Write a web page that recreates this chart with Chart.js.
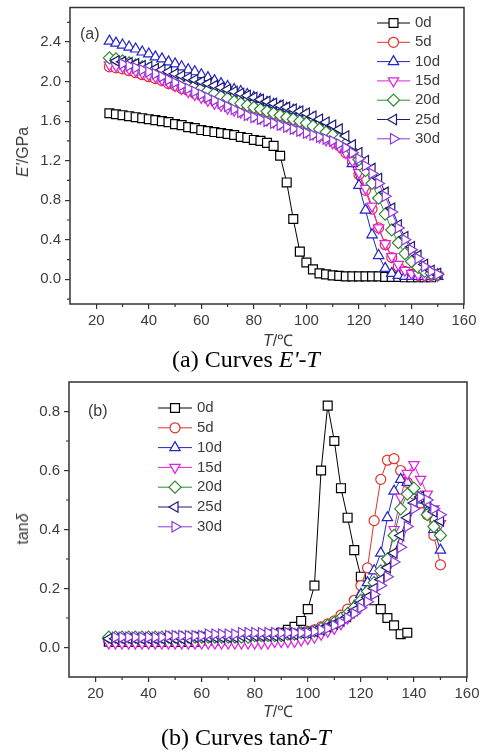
<!DOCTYPE html>
<html>
<head>
<meta charset="utf-8">
<script src="https://cdn.jsdelivr.net/npm/chart.js@4.4.1/dist/chart.umd.min.js"></script>
<style>
  body { margin: 0; background: #fff; }
  #page { position: relative; width: 487px; height: 755px; overflow: hidden; background: #fff; }
  canvas { position: absolute; left: 0; }
  #graphA { top: 0; }
  #graphB { top: 365px; }
  .axis-title { position: absolute; font-family: "Liberation Sans", Arial, sans-serif; font-size: 16px; color: #3c3c3c; white-space: nowrap; transform: translate(-50%, -50%); }
  .axis-title.vert { transform: translate(-50%, -50%) rotate(-90deg); }
  .caption { position: absolute; font-family: "Liberation Serif", "Times New Roman", serif; font-size: 24px; color: #000; white-space: nowrap; transform: translate(-50%, -50%); }
</style>
</head>
<body>
<div id="page">
  <canvas id="graphA" width="487" height="345"></canvas>
  <div class="axis-title vert" style="left:23px;top:152px"><i>E'</i>/GPa</div>
  <div class="axis-title" style="left:278px;top:340px"><i>T</i>/℃</div>
  <div class="caption" style="left:246px;top:359px">(a) Curves <i>E'</i>-<i>T</i></div>

  <canvas id="graphB" width="487" height="360"></canvas>
  <div class="axis-title vert" style="left:23px;top:529px">tan<i>δ</i></div>
  <div class="axis-title" style="left:278px;top:711px"><i>T</i>/℃</div>
  <div class="caption" style="left:246px;top:737px">(b) Curves tan<i>δ</i>-<i>T</i></div>
</div>

<script>
// temperature of every measuring point (°C)
const temps = [25, 27.5, 30, 32.5, 35, 37.5, 40, 42.5, 45, 47.5,
               50, 52.5, 55, 57.5, 60, 62.5, 65, 67.5, 70, 72.5,
               75, 77.5, 80, 82.5, 85, 87.5, 90, 92.5, 95, 97.5,
               100, 102.5, 105, 107.5, 110, 112.5, 115, 117.5, 120, 122.5,
               125, 127.5, 130, 132.5, 135, 137.5, 140, 142.5, 145, 147.5, 150];

const seriesNames = ['0d', '5d', '10d', '15d', '20d', '25d', '30d'];

// (a) storage modulus E' (GPa)
const mod0d = [1.68, 1.67, 1.66, 1.65, 1.64, 1.63, 1.62, 1.61, 1.60, 1.59,
               1.57, 1.56, 1.54, 1.53, 1.51, 1.50, 1.49, 1.48, 1.47, 1.46,
               1.44, 1.43, 1.41, 1.40, 1.38, 1.35, 1.25, 0.98, 0.61, 0.28,
               0.17, 0.10, 0.06, 0.05, 0.04, 0.035, 0.03, 0.03, 0.03, 0.03,
               0.03, 0.03, 0.025, 0.025, 0.025, 0.02, 0.02, 0.02, 0.02, 0.02, null];
const mod5d = [2.15, 2.14, 2.13, 2.11, 2.09, 2.07, 2.05, 2.03, 2.01, 1.98,
               1.96, 1.93, 1.91, 1.88, 1.86, 1.83, 1.81, 1.79, 1.77, 1.75,
               1.73, 1.71, 1.69, 1.67, 1.65, 1.63, 1.61, 1.59, 1.57, 1.55,
               1.53, 1.50, 1.47, 1.44, 1.40, 1.35, 1.28, 1.19, 1.06, 0.90,
               0.71, 0.52, 0.35, 0.22, 0.13, 0.08, 0.05, 0.04, 0.04, 0.04, 0.04];
const mod10d = [2.41, 2.39, 2.37, 2.35, 2.33, 2.30, 2.28, 2.25, 2.23, 2.20,
                2.18, 2.15, 2.12, 2.10, 2.07, 2.04, 2.01, 1.98, 1.95, 1.92,
                1.90, 1.87, 1.84, 1.82, 1.79, 1.77, 1.75, 1.73, 1.71, 1.69,
                1.66, 1.63, 1.59, 1.55, 1.50, 1.44, 1.32, 1.17, 0.95, 0.70,
                0.45, 0.24, 0.11, 0.06, 0.04, 0.03, 0.03, 0.03, 0.03, 0.03, 0.03];
const mod15d = [2.17, 2.16, 2.15, 2.13, 2.11, 2.09, 2.07, 2.05, 2.02, 1.99,
                1.96, 1.93, 1.90, 1.87, 1.84, 1.81, 1.78, 1.76, 1.73, 1.71,
                1.69, 1.67, 1.65, 1.63, 1.61, 1.59, 1.57, 1.55, 1.53, 1.51,
                1.49, 1.47, 1.44, 1.41, 1.38, 1.34, 1.28, 1.20, 1.08, 0.92,
                0.74, 0.52, 0.36, 0.23, 0.15, 0.09, 0.06, 0.05, 0.04, 0.04, 0.04];
const mod20d = [2.24, 2.23, 2.21, 2.19, 2.17, 2.15, 2.13, 2.11, 2.09, 2.06,
                2.04, 2.01, 1.99, 1.96, 1.93, 1.91, 1.88, 1.85, 1.83, 1.80,
                1.78, 1.76, 1.74, 1.72, 1.70, 1.68, 1.66, 1.64, 1.62, 1.60,
                1.58, 1.55, 1.52, 1.49, 1.46, 1.42, 1.37, 1.30, 1.21, 1.10,
                0.97, 0.82, 0.66, 0.50, 0.37, 0.26, 0.18, 0.12, 0.08, 0.06, 0.05];
const mod25d = [null, 2.21, 2.20, 2.19, 2.18, 2.16, 2.15, 2.13, 2.12, 2.10,
                2.08, 2.06, 2.04, 2.02, 2.00, 1.98, 1.96, 1.94, 1.92, 1.90,
                1.88, 1.86, 1.84, 1.82, 1.80, 1.78, 1.76, 1.74, 1.72, 1.70,
                1.68, 1.65, 1.62, 1.59, 1.56, 1.52, 1.45, 1.36, 1.28, 1.20,
                1.12, 1.02, 0.88, 0.72, 0.55, 0.43, 0.33, 0.24, 0.15, 0.09, 0.06];
const mod30d = [null, null, 2.18, 2.16, 2.14, 2.12, 2.10, 2.08, 2.05, 2.02,
                1.99, 1.96, 1.93, 1.90, 1.87, 1.84, 1.81, 1.78, 1.75, 1.72,
                1.69, 1.66, 1.64, 1.62, 1.60, 1.58, 1.56, 1.54, 1.52, 1.50,
                1.48, 1.46, 1.44, 1.42, 1.40, 1.37, 1.33, 1.28, 1.22, 1.15,
                1.07, 0.97, 0.84, 0.68, 0.52, 0.40, 0.30, 0.21, 0.13, 0.08, 0.05];

// (b) loss factor tan delta
const tan0d = [0.02, 0.02, 0.02, 0.02, 0.02, 0.02, 0.02, 0.02, 0.02, 0.02,
               0.02, 0.02, 0.02, 0.02, 0.025, 0.025, 0.025, 0.025, 0.03, 0.03,
               0.03, 0.03, 0.035, 0.035, 0.04, 0.045, 0.05, 0.06, 0.07, 0.09,
               0.13, 0.21, 0.60, 0.82, 0.70, 0.54, 0.44, 0.33, 0.24, 0.20,
               0.16, 0.13, 0.10, 0.075, 0.045, 0.05, null, null, null, null, null];
const tan5d = [0.03, 0.03, 0.03, 0.03, 0.03, 0.03, 0.03, 0.03, 0.03, 0.03,
               0.03, 0.03, 0.03, 0.03, 0.03, 0.03, 0.03, 0.03, 0.03, 0.03,
               0.03, 0.03, 0.03, 0.035, 0.035, 0.035, 0.04, 0.04, 0.045, 0.05,
               0.055, 0.06, 0.07, 0.08, 0.09, 0.11, 0.13, 0.16, 0.21, 0.27,
               0.43, 0.57, 0.635, 0.64, 0.60, 0.56, 0.52, 0.49, 0.45, 0.38, 0.28];
const tan10d = [0.03, 0.03, 0.03, 0.03, 0.03, 0.03, 0.03, 0.03, 0.03, 0.03,
                0.03, 0.03, 0.03, 0.03, 0.03, 0.03, 0.03, 0.03, 0.03, 0.03,
                0.03, 0.03, 0.03, 0.03, 0.03, 0.035, 0.035, 0.04, 0.04, 0.045,
                0.05, 0.055, 0.06, 0.07, 0.08, 0.095, 0.115, 0.14, 0.18, 0.22,
                0.26, 0.32, 0.44, 0.53, 0.57, 0.56, 0.53, 0.50, 0.46, 0.40, 0.33];
const tan15d = [0.015, 0.015, 0.015, 0.015, 0.015, 0.015, 0.015, 0.015, 0.015, 0.015,
                0.015, 0.015, 0.015, 0.015, 0.015, 0.015, 0.015, 0.015, 0.015, 0.015,
                0.015, 0.015, 0.015, 0.015, 0.015, 0.02, 0.02, 0.02, 0.02, 0.025,
                0.03, 0.035, 0.045, 0.055, 0.065, 0.08, 0.10, 0.12, 0.14, 0.17,
                0.20, 0.24, 0.29, 0.40, 0.51, 0.59, 0.62, 0.57, 0.52, 0.47, 0.42];
const tan20d = [0.035, 0.035, 0.035, 0.035, 0.035, 0.035, 0.035, 0.035, 0.035, 0.035,
                0.035, 0.035, 0.035, 0.035, 0.035, 0.035, 0.035, 0.035, 0.035, 0.035,
                0.035, 0.035, 0.04, 0.04, 0.04, 0.04, 0.04, 0.045, 0.045, 0.05,
                0.05, 0.055, 0.065, 0.075, 0.085, 0.10, 0.115, 0.135, 0.16, 0.19,
                0.22, 0.26, 0.30, 0.38, 0.47, 0.52, 0.54, 0.51, 0.45, 0.41, 0.38];
const tan25d = [0.03, 0.03, 0.03, 0.03, 0.03, 0.03, 0.03, 0.03, 0.03, 0.03,
                0.03, 0.03, 0.03, 0.035, 0.035, 0.035, 0.035, 0.035, 0.035, 0.035,
                0.04, 0.04, 0.04, 0.04, 0.04, 0.04, 0.04, 0.045, 0.045, 0.05,
                0.05, 0.055, 0.06, 0.07, 0.08, 0.09, 0.105, 0.125, 0.15, 0.17,
                0.20, 0.23, 0.27, 0.32, 0.38, 0.44, 0.49, 0.51, 0.49, 0.46, 0.43];
const tan30d = [null, 0.035, 0.035, 0.035, 0.035, 0.035, 0.035, 0.035, 0.035, 0.04,
                0.04, 0.04, 0.04, 0.04, 0.04, 0.045, 0.045, 0.045, 0.045, 0.045,
                0.05, 0.05, 0.05, 0.05, 0.05, 0.05, 0.05, 0.05, 0.05, 0.05,
                0.05, 0.055, 0.06, 0.065, 0.075, 0.085, 0.10, 0.115, 0.135, 0.155,
                0.18, 0.21, 0.24, 0.29, 0.34, 0.41, 0.47, 0.51, 0.50, 0.47, 0.45];

// axis ticks
const xTicks = [20, 40, 60, 80, 100, 120, 140, 160];
const xMinor = [30, 50, 70, 90, 110, 130, 150];
const yTicksA = [0, 0.4, 0.8, 1.2, 1.6, 2.0, 2.4];
const yMinorA = [-0.2, 0.2, 0.6, 1.0, 1.4, 1.8, 2.2, 2.6];
const yTicksB = [0, 0.2, 0.4, 0.6, 0.8];
const yMinorB = [0.1, 0.3, 0.5, 0.7];

// looks
const colors = ['#000000', '#e0302a', '#2424c8', '#e020e0', '#2e8b2e', '#1c1c70', '#8a3ad8'];
const shapes = ['rect', 'circle', 'triangle', 'triangle', 'rectRot', 'triangle', 'triangle'];
const turns = [0, 0, 0, 180, 0, 270, 90];
const sizes = [6.3, 5, 6, 6, 6, 6, 6];
const textColor = '#3c3c3c';
const sans = '"Liberation Sans", Arial, sans-serif';

Chart.defaults.font.family = sans;
Chart.defaults.color = textColor;

function buildSets(series) {
    return series.map((vals, i) => ({
        label: seriesNames[i],
        data: temps.map((t, k) => ({ x: t, y: vals[k] })),
        borderColor: colors[i],
        backgroundColor: '#fff',
        borderWidth: 1,
        pointStyle: shapes[i],
        pointRotation: turns[i],
        pointRadius: sizes[i],
        pointBorderWidth: 1.2,
        pointBorderColor: colors[i],
        pointBackgroundColor: '#fff',
        tension: 0,
        order: series.length - i
    }));
}

// box, minor ticks, panel tag and legend
const extras = {
    id: 'extras',
    afterDatasetsDraw(chart, args, opts) {
        const ctx = chart.ctx;
        const { left, top, right, bottom } = chart.chartArea;
        const xs = chart.scales.x;
        const ys = chart.scales.y;

        ctx.save();
        ctx.strokeStyle = '#333';
        ctx.lineWidth = 1.5;
        ctx.strokeRect(left, top, right - left, bottom - top);

        ctx.lineWidth = 1.2;
        ctx.beginPath();
        opts.minorX.forEach(v => {
            const px = xs.getPixelForValue(v);
            ctx.moveTo(px, bottom);
            ctx.lineTo(px, bottom + 3);
        });
        opts.minorY.forEach(v => {
            const py = ys.getPixelForValue(v);
            ctx.moveTo(left, py);
            ctx.lineTo(left - 3, py);
        });
        ctx.stroke();

        ctx.fillStyle = textColor;
        ctx.font = '16px ' + sans;
        ctx.textBaseline = 'middle';
        ctx.fillText(opts.tag, opts.tagX, opts.tagY);

        chart.data.datasets.forEach((ds, i) => {
            const ly = opts.legY + i * opts.legGap;
            ctx.strokeStyle = ds.borderColor;
            ctx.lineWidth = 1;
            ctx.beginPath();
            ctx.moveTo(opts.legX, ly);
            ctx.lineTo(opts.legX + opts.legLen, ly);
            ctx.stroke();

            ctx.fillStyle = '#fff';
            ctx.lineWidth = 1.2;
            Chart.helpers.drawPoint(ctx, {
                pointStyle: ds.pointStyle,
                rotation: ds.pointRotation,
                radius: ds.pointRadius,
                borderWidth: 1.2
            }, opts.legX + opts.legLen / 2, ly);

            ctx.fillStyle = textColor;
            ctx.font = '15px ' + sans;
            ctx.fillText(ds.label, opts.legX + opts.legLen + 5, ly);
        });
        ctx.restore();
    }
};

function makeChart(id, series, yMin, yMax, yTicks, yMinor, box, extraOpts) {
    return new Chart(document.getElementById(id).getContext('2d'), {
        type: 'line',
        data: { datasets: buildSets(series) },
        options: {
            responsive: false,
            animation: false,
            devicePixelRatio: 1,
            layout: { padding: { top: box.top, right: box.right, left: 0, bottom: 0 } },
            plugins: {
                legend: { display: false },
                tooltip: { enabled: false },
                extras: Object.assign({ minorX: xMinor, minorY: yMinor }, extraOpts)
            },
            scales: {
                x: {
                    type: 'linear',
                    min: 10,
                    max: 160,
                    border: { display: false },
                    grid: { drawOnChartArea: false, tickLength: 5, color: '#333', lineWidth: 1.2 },
                    ticks: { padding: 3, font: { size: 15 }, color: textColor, maxRotation: 0 },
                    afterBuildTicks: s => { s.ticks = xTicks.map(v => ({ value: v })); },
                    afterFit: s => { s.height = box.xh; s.paddingLeft = 0; s.paddingRight = 0; }
                },
                y: {
                    min: yMin,
                    max: yMax,
                    border: { display: false },
                    grid: { drawOnChartArea: false, tickLength: 5, color: '#333', lineWidth: 1.2 },
                    ticks: { padding: 4, font: { size: 15 }, color: textColor, callback: v => v.toFixed(1) },
                    afterBuildTicks: s => { s.ticks = yTicks.map(v => ({ value: v })); },
                    afterFit: s => { s.width = box.yw; s.paddingTop = 0; s.paddingBottom = 0; }
                }
            }
        },
        plugins: [extras]
    });
}

makeChart('graphA',
    [mod0d, mod5d, mod10d, mod15d, mod20d, mod25d, mod30d],
    -0.25, 2.75, yTicksA, yMinorA,
    { top: 7, right: 23, xh: 41, yw: 70 },
    { tag: '(a)', tagX: 80, tagY: 35, legX: 377, legY: 23, legGap: 19.3, legLen: 33 });

makeChart('graphB',
    [tan0d, tan5d, tan10d, tan15d, tan20d, tan25d, tan30d],
    -0.1, 0.9, yTicksB, yMinorB,
    { top: 17, right: 20, xh: 48, yw: 69 },
    { tag: '(b)', tagX: 88, tagY: 47, legX: 158, legY: 43, legGap: 19.8, legLen: 34 });
</script>
</body>
</html>
